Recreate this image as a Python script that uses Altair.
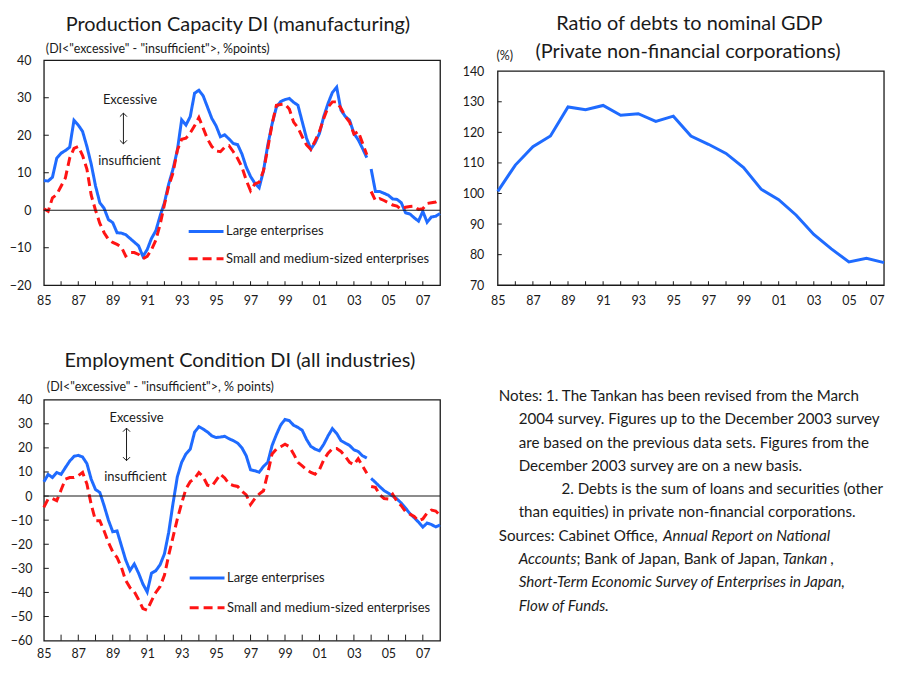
import altair as alt
import pandas as pd

FONT = "Lato"
INK = "#1a1a1a"
BLUE = "#1f6bff"
RED = "#ff1414"

SERIES = ["Large enterprises", "Small and medium-sized enterprises"]
ODD_YEARS = list(range(1985, 2008, 2))

# ---------------- data (quarterly, old basis 1985Q1-2003Q4, new basis 2004Q1-2008Q1)
pc_large_old = [7.9, 7.8, 8.8, 13.9, 15.2, 15.9, 16.8, 24.0, 22.7, 21.0, 17.0, 12.3,
                6.5, 2.0, 0.5, -2.5, -3.3, -6.0, -6.1, -6.5, -7.5, -8.5, -9.5, -12.3,
                -10.5, -7.5, -5.5, -1.5, 2.0, 7.0, 11.0, 16.0, 24.1, 22.7, 25.0, 31.2,
                32.0, 30.5, 27.5, 24.5, 22.5, 19.6, 20.1, 19.0, 17.8, 17.5, 15.0, 11.5,
                9.0, 7.2, 6.0, 10.5, 17.4, 23.0, 27.5, 29.0, 29.5, 29.8, 28.8, 28.0,
                23.6, 19.2, 16.3, 18.0, 20.5, 25.0, 28.5, 31.4, 32.8, 26.7, 25.0, 24.0,
                20.5, 18.8, 16.5, 14.0]
pc_large_new = [11.0, 5.0, 5.0, 4.5, 4.0, 3.0, 2.9, 2.0, -0.7, -1.0, -2.0, -2.9,
                -0.3, -3.2, -1.8, -1.6, -0.9]
pc_sme_old = [0.4, -0.3, 3.3, 4.2, 6.4, 8.6, 13.9, 16.5, 17.0, 14.6, 11.0, 4.0,
              0.0, -3.5, -6.0, -7.8, -8.6, -9.1, -9.8, -12.2, -11.3, -11.3, -11.8, -12.9,
              -12.3, -10.5, -8.0, -3.8, 1.5, 6.5, 10.0, 16.0, 18.9, 19.2, 20.6, 22.5,
              24.7, 21.9, 19.0, 17.0, 15.8, 15.6, 16.8, 17.2, 15.6, 13.8, 11.5, 8.0,
              5.2, 7.0, 7.5, 10.5, 16.5, 23.0, 28.0, 28.2, 28.3, 27.0, 23.5, 22.0,
              19.6, 17.4, 16.2, 18.5, 21.0, 24.5, 27.5, 28.9, 28.9, 27.2, 25.0, 23.5,
              20.3, 21.0, 17.9, 14.8]
pc_sme_new = [5.0, 2.6, 3.1, 2.6, 2.0, 1.4, 1.1, 0.2, 0.8, 1.0, 1.1, 0.2,
              0.4, 1.8, 2.0, 2.2, 2.8]

emp_large_old = [5.9, 9.0, 7.7, 9.8, 9.0, 11.8, 14.5, 16.5, 16.9, 16.2, 13.5, 7.0,
                 2.7, 1.5, -4.0, -10.0, -14.8, -14.5, -20.5, -26.5, -30.9, -28.2, -32.0, -36.5,
                 -39.8, -32.0, -31.0, -28.5, -24.0, -15.0, -3.0, 8.0, 14.0, 17.5, 19.5, 26.5,
                 28.8, 27.8, 26.6, 25.0, 24.3, 24.5, 24.8, 23.8, 23.0, 22.0, 20.0, 16.7,
                 10.9, 10.5, 9.9, 12.3, 14.0, 21.0, 25.5, 29.5, 31.8, 31.3, 29.4, 28.5,
                 27.3, 23.5, 20.6, 19.5, 18.8, 21.5, 25.0, 28.0, 26.0, 23.0, 22.0, 21.0,
                 19.2, 18.5, 16.7, 15.8]
emp_large_new = [7.3, 5.7, 3.9, 2.3, 1.2, 0.0, -1.2, -2.9, -5.0, -7.3, -9.0, -10.8,
                 -12.9, -11.2, -11.8, -12.8, -12.0]
emp_sme_old = [-4.7, -1.2, -1.0, -1.9, 2.5, 7.0, 7.7, 7.7, 8.5, 9.8, 5.0, -3.5,
               -10.2, -10.2, -14.5, -19.2, -23.2, -25.5, -29.5, -35.0, -38.0, -39.7, -43.0, -46.7,
               -47.4, -43.5, -40.0, -37.5, -32.9, -24.5, -17.0, -9.5, -3.0, 3.0, 6.0, 7.2,
               9.8, 8.0, 4.5, 4.0, 6.5, 9.1, 7.5, 5.0, 4.4, 4.0, 2.0, 0.5,
               -3.5, -1.0, 0.8, 2.2, 9.5, 17.5, 19.5, 20.5, 21.5, 20.5, 17.5, 14.0,
               12.5, 11.0, 9.8, 9.1, 11.0, 15.0, 17.8, 19.7, 19.7, 18.5, 16.5, 14.0,
               13.0, 15.5, 12.5, 9.5]
emp_sme_new = [4.0, 3.6, 0.5, -1.0, -1.2, 0.8, -2.2, -4.0, -6.5, -7.5, -8.5, -10.3,
               -9.5, -7.0, -5.8, -6.2, -8.0]

debt_years = list(range(1985, 2008))
debt_ratio = [100.7, 109.3, 115.3, 118.8, 128.3, 127.4, 128.8, 125.6, 126.1, 123.6,
              125.3, 118.8, 116.1, 113.1, 108.5, 101.4, 98.0, 92.9, 86.6, 81.9,
              77.6, 78.8, 77.4]

NOTES = [
    ["Notes: 1. The Tankan has been revised from the March"],
    ["2004 survey. Figures up to the December 2003 survey"],
    ["are based on the previous data sets. Figures from the"],
    ["December 2003 survey are on a new basis."],
    ["2. Debts is the sum of loans and securities (other"],
    ["than equities) in private non-financial corporations."],
    ["Sources: Cabinet Office,", "Annual Report on National"],
    ["Accounts", "; Bank of Japan, Bank of Japan,", "Tankan", ","],
    ["Short-Term Economic Survey of Enterprises in Japan,"],
    ["Flow of Funds."],
]
NOTES_ITALIC = [[0], [0], [0], [0], [0], [0], [0, 1], [1, 0, 1, 0], [1], [1]]
# layout of note segments (page x of each segment start)
NOTES_X = [[500], [520], [520], [520], [563], [520], [500, 665], [520, 578, 785, 833], [520], [520]]

ONE = pd.DataFrame({"k": [0]})


def quarter_times(start, n):
    return [start + i / 4 for i in range(n)]


def di_frame(large_old, large_new, sme_old, sme_new):
    parts = []
    for name, basis, start, vals in (
        (SERIES[0], "old", 1985.0, large_old),
        (SERIES[0], "new", 2004.0, large_new),
        (SERIES[1], "old", 1985.0, sme_old),
        (SERIES[1], "new", 2004.0, sme_new),
    ):
        parts.append(pd.DataFrame({"t": quarter_times(start, len(vals)), "value": vals,
                                   "series": name, "basis": basis}))
    return pd.concat(parts, ignore_index=True)


def text_mark(text, x, y, size, align="center", style="normal"):
    return alt.Chart(ONE).mark_text(
        text=text, font=FONT, fontSize=size, align=align, baseline="middle",
        fontStyle=style, color=INK,
    ).encode(x=alt.value(x), y=alt.value(y))


def make_axes(xdom, ydom, yrange, ypad, xpad, last_right=False):
    xs = alt.Scale(domain=xdom, nice=False, zero=False)
    if yrange is None:
        ys = alt.Scale(domain=ydom, nice=False, zero=False)
    else:
        ys = alt.Scale(domain=ydom, range=yrange, nice=False, zero=False)
    xkw = dict(values=ODD_YEARS, labelExpr="substring(toString(datum.value), 2, 4)",
               title=None, labelPadding=xpad, labelFlush=False)
    if last_right:
        xkw["labelAlign"] = {"condition": {"test": "datum.value == %d" % xdom[1], "value": "right"},
                             "value": "center"}
    xa = alt.Axis(**xkw)
    ya = alt.Axis(values=list(range(ydom[0], ydom[1] + 1, 10)), title=None,
                  labelPadding=ypad, labelFlush=False)

    def X(field):
        return alt.X(field, type="quantitative", scale=xs, axis=xa)

    def Y(field):
        return alt.Y(field, type="quantitative", scale=ys, axis=ya)
    return X, Y


def di_chart(df, title, subtitle, ydom, W, H, tick_len, leg_x, leg_y, row_pad, ann, lay, extra=()):
    X, Y = make_axes([1985, 2008], ydom, None, lay["ypad"], lay["xpad"])
    yvals = list(range(ydom[0], ydom[1] + 1, 10))
    legend = alt.Legend(title=None, orient="none", legendX=leg_x, legendY=leg_y,
                        symbolType="stroke", symbolSize=1225, symbolStrokeWidth=3,
                        labelFont=FONT, labelFontSize=13, labelColor=INK, labelLimit=400,
                        rowPadding=row_pad, labelOffset=1, padding=0)
    lines = alt.Chart(df).mark_line(strokeWidth=3).encode(
        x=X("t"), y=Y("value"),
        color=alt.Color("series:N", scale=alt.Scale(domain=SERIES, range=[BLUE, RED]), legend=legend),
        strokeDash=alt.StrokeDash("series:N", scale=alt.Scale(domain=SERIES, range=[[1, 0], [9, 5]]),
                                  legend=legend),
        detail="basis:N",
    )
    zero = alt.Chart(pd.DataFrame({"v": [0]})).mark_rule(color=INK, strokeWidth=1.1).encode(y=Y("v"))
    xt = alt.Chart(pd.DataFrame({"yr": list(range(1986, 2008))})).mark_rule(color=INK, strokeWidth=1).encode(
        x=X("yr"), y=alt.value(H), y2=alt.value(H - tick_len))
    yt = alt.Chart(pd.DataFrame({"v": yvals[1:-1]})).mark_rule(color=INK, strokeWidth=1).encode(
        y=Y("v"), x=alt.value(0), x2=alt.value(5))
    words = alt.Chart(pd.DataFrame({"x": [ann["ex"][0], ann["ins"][0]], "y": [ann["ex"][1], ann["ins"][1]],
                                    "s": ["Excessive", "insufficient"]})).mark_text(
        font=FONT, fontSize=13, color=INK, baseline="middle").encode(x=X("x"), y=Y("y"), text="s:N")
    ax, a_top, a_bot = ann["arrow"]
    shaft = alt.Chart(pd.DataFrame({"x": [ax], "y1": [a_top], "y2": [a_bot]})).mark_rule(
        color=INK, strokeWidth=1).encode(x=X("x"), y=Y("y1"), y2="y2:Q")
    head_up = alt.Chart(pd.DataFrame({"x": [ax], "y": [a_top]})).mark_point(
        shape="M-1,1L0,0L1,1", filled=False, color=INK, strokeWidth=1, size=50, opacity=1).encode(
        x=X("x"), y=Y("y"))
    head_dn = alt.Chart(pd.DataFrame({"x": [ax], "y": [a_bot]})).mark_point(
        shape="M-1,-1L0,0L1,-1", filled=False, color=INK, strokeWidth=1, size=50, opacity=1).encode(
        x=X("x"), y=Y("y"))
    ttl = text_mark(title, lay["tx"], lay["ty"], 20)
    sub = text_mark(subtitle, lay["sx"], lay["sy"], 12.5, align="left")
    return alt.layer(lines, zero, xt, yt, words, shaft, head_up, head_dn, ttl, sub, *extra).properties(
        width=W, height=H)


# ---------------- notes (drawn as text beside the employment panel; origin = its plot top-left)
BL_LEFT, BL_TOP, LINE_H = 43, 402, 23.4
note_layers = []
for i, segs in enumerate(NOTES):
    for seg, it, xa in zip(segs, NOTES_ITALIC[i], NOTES_X[i]):
        note_layers.append(text_mark(seg, xa - BL_LEFT, 398.3 - BL_TOP + LINE_H * i, 15.2,
                                     align="left", style="italic" if it else "normal"))

# ---------------- panels
pc_df = di_frame(pc_large_old, pc_large_new, pc_sme_old, pc_sme_new)
emp_df = di_frame(emp_large_old, emp_large_new, emp_sme_old, emp_sme_new)

tl = di_chart(pc_df, "Production Capacity DI (manufacturing)",
              '(DI<"excessive" - "insufficient">, %points)',
              [-20, 40], 398, 226, 4, 144, 153, 1.5,
              {"ex": (1990.0, 29.4), "ins": (1989.97, 13.0), "arrow": (1989.62, 25.9, 17.7)},
              {"tx": 195, "ty": -35, "sx": 2, "sy": -11, "ypad": 13, "xpad": 9})

bl = di_chart(emp_df, "Employment Condition DI (all industries)",
              '(DI<"excessive" - "insufficient">, % points)',
              [-60, 40], 398, 242, 6, 145, 160, 4,
              {"ex": (1990.38, 32.6), "ins": (1990.32, 7.9), "arrow": (1989.8, 28.2, 14.7)},
              {"tx": 197, "ty": -39, "sx": 3, "sy": -13, "ypad": 12, "xpad": 7},
              extra=note_layers)

# debt ratio panel: shares the plot top with the left panel, its frame starts 11px lower
TRW, TRH, TR_TOP = 388, 226, 11
debt_df = pd.DataFrame({"year": debt_years, "ratio": debt_ratio})
TX, TY = make_axes([1985, 2007], [70, 140], [TRH, TR_TOP], 14, 9, last_right=True)
tr_frame = alt.Chart(pd.DataFrame({"x1": [1985], "x2": [2007], "y1": [70], "y2": [140]})).mark_rect(
    fillOpacity=0, stroke=INK, strokeWidth=1.3).encode(x=TX("x1"), x2="x2:Q", y=TY("y1"), y2="y2:Q")
tr_line = alt.Chart(debt_df).mark_line(strokeWidth=3, color=BLUE).encode(x=TX("year"), y=TY("ratio"))
tr_xt = alt.Chart(pd.DataFrame({"yr": list(range(1986, 2007))})).mark_rule(color=INK, strokeWidth=1).encode(
    x=TX("yr"), y=alt.value(TRH), y2=alt.value(TRH - 4))
tr_yt = alt.Chart(pd.DataFrame({"v": list(range(80, 140, 10))})).mark_rule(color=INK, strokeWidth=1).encode(
    y=TY("v"), x=alt.value(0), x2=alt.value(4))
tr = alt.layer(
    tr_frame, tr_line, tr_xt, tr_yt,
    text_mark("Ratio of debts to nominal GDP", 192.5, -36, 20),
    text_mark("(Private non-financial corporations)", 191, -8, 20),
    text_mark("(%)", 7, -4, 12.5),
).properties(width=TRW, height=TRH, view=alt.ViewBackground(strokeWidth=0))

top = alt.hconcat(tl, tr, spacing=15)

chart = alt.vconcat(top, bl, spacing=42).resolve_scale(
    color="independent", strokeDash="independent", x="independent", y="independent"
).properties(
    padding={"left": 0, "top": 5, "right": 0, "bottom": 0}, background="white"
).configure(font=FONT).configure_view(
    stroke=INK, strokeWidth=1.3
).configure_axis(
    labelFont=FONT, labelFontSize=12.5, labelColor=INK, domain=False, ticks=False, tickSize=0, grid=False
)

chart.save("out.html", embed_options={"renderer": "svg", "actions": False})
